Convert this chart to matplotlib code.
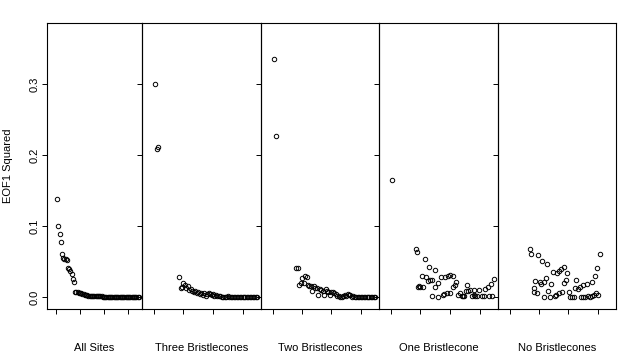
# EOF1 squared by site group - five panels side by side

import numpy as np
import matplotlib.pyplot as plt

plt.rcParams['font.family'] = ['Liberation Sans', 'DejaVu Sans']

group_names = ['All Sites', 'Three Bristlecones', 'Two Bristlecones',
               'One Bristlecone', 'No Bristlecones']

y_ticks = [0.0, 0.1, 0.2, 0.3]
y_tick_labels = ['0.0', '0.1', '0.2', '0.3']

#   D A T A   (x = site position, y = EOF1 squared)
# -------------------------------------------------------------
all_y = [0.138, 0.100, 0.088, 0.078, 0.061, 0.055, 0.054, 0.053, 0.052, 0.041,
         0.039, 0.036, 0.033, 0.025, 0.021, 0.0075, 0.0072, 0.0068, 0.0062, 0.0056,
         0.0050, 0.0046, 0.0040, 0.0033, 0.0027, 0.0022, 0.0018, 0.0015, 0.0012, 0.0010,
         0.0009, 0.0009, 0.0008, 0.0008, 0.0008, 0.0007, 0.0007, 0.0007, 0.0006, 0.0006,
         0.0006, 0.0006, 0.0005, 0.0005, 0.0005, 0.0005, 0.0005, 0.0004, 0.0004, 0.0004,
         0.0004, 0.0004, 0.0003, 0.0003, 0.0003, 0.0003, 0.0003, 0.0003, 0.0002, 0.0002,
         0.0002, 0.0002, 0.0002, 0.0002, 0.0001, 0.0001, 0.0001, 0.0001, 0.0001]
all_x = np.arange(1, len(all_y) + 1)

three_x = [1, 2, 3] + list(range(17, 71))
three_y = [0.300, 0.208, 0.211,
           0.028, 0.013, 0.014, 0.020, 0.017, 0.012, 0.016, 0.010, 0.011, 0.008,
           0.007, 0.009, 0.005, 0.007, 0.004, 0.006, 0.003, 0.005, 0.002, 0.004,
           0.006, 0.004, 0.003, 0.004, 0.002, 0.003, 0.002, 0.001, 0.002,
           0.0005, 0.0004, 0.0004, 0.0004, 0.002, 0.0005, 0.0004, 0.0004, 0.0004, 0.0004,
           0.0004, 0.0004, 0.0004, 0.0004, 0.0004, 0.0004, 0.0004, 0.0004, 0.0004, 0.0004,
           0.0004, 0.0004, 0.0004, 0.0004, 0.0004]

two_x = [1, 2] + list(range(16, 71))
two_y = [0.335, 0.227,
         0.041, 0.041, 0.017, 0.019, 0.026, 0.019, 0.029, 0.028, 0.017, 0.015,
         0.016, 0.009, 0.015, 0.013, 0.012, 0.0025, 0.011, 0.010, 0.009, 0.003,
         0.011, 0.009, 0.007, 0.003, 0.007, 0.007, 0.006, 0.004, 0.0015, 0.001,
         0.0005, 0.0005, 0.002, 0.0025, 0.0015, 0.004, 0.003, 0.0025, 0.0005, 0.0015,
         0.0005, 0.0005, 0.0005, 0.0005, 0.0005, 0.0005, 0.0005, 0.0005, 0.0005, 0.0005,
         0.0005, 0.0005, 0.0005, 0.0005, 0.0005]

one_x = [1, 16.7, 17.4, 22.8, 25.8, 29.6, 20.8, 23.5, 19.2, 18.5,
         19.9, 21.5, 26.2, 27.6, 25.1, 27.6, 30.0, 32.0, 33.7, 36.4,
         38.6, 39.8, 42.3, 44.3, 43.4, 42.0, 32.0, 35.0, 36.0, 37.9,
         40.2, 45.6, 47.0, 48.0, 48.8, 49.7, 51.3, 51.0, 52.4, 53.8,
         55.0, 56.5, 57.2, 58.3, 56.5, 59.4, 61.7, 63.0, 63.7, 65.8,
         66.2, 67.6, 68.5, 69.8]
one_y = [0.165, 0.068, 0.064, 0.054, 0.042, 0.038, 0.030, 0.028, 0.016, 0.014,
         0.0145, 0.0134, 0.024, 0.024, 0.022, 0.0014, 0.0134, 0.020, 0.028, 0.028,
         0.029, 0.031, 0.029, 0.021, 0.0164, 0.0146, 0.0005, 0.003, 0.004, 0.005,
         0.006, 0.003, 0.006, 0.0014, 0.0014, 0.0014, 0.0174, 0.009, 0.008, 0.0095,
         0.0014, 0.003, 0.0014, 0.0014, 0.010, 0.0095, 0.0014, 0.0014, 0.0105, 0.0134,
         0.0014, 0.018, 0.0014, 0.025]

none_x = [14.0, 14.5, 19.2, 22.2, 25.5, 17.4, 16.7, 20.6, 21.3, 23.3,
          24.9, 29.2, 32.1, 33.9, 34.8, 36.8, 38.9, 28.3, 26.2, 16.3,
          18.8, 23.5, 27.6, 30.5, 31.4, 33.5, 35.7, 36.8, 38.2, 40.4,
          41.4, 42.5, 43.6, 45.2, 44.7, 46.6, 47.7, 49.7, 52.4, 48.4,
          50.0, 51.6, 53.3, 54.5, 56.1, 56.1, 58.1, 59.7, 60.3, 57.4,
          59.0, 61.9]
none_y = [0.068, 0.061, 0.0587, 0.050, 0.047, 0.023, 0.013, 0.0207, 0.018, 0.021,
          0.0268, 0.0347, 0.034, 0.037, 0.0394, 0.0427, 0.034, 0.018, 0.0089, 0.0066,
          0.005, 0.0005, 0.0005, 0.0014, 0.0028, 0.005, 0.0066, 0.0193, 0.0235, 0.0075,
          0.0005, 0.0005, 0.0005, 0.024, 0.0126, 0.0117, 0.0146, 0.017, 0.018, 0.0005,
          0.0005, 0.0005, 0.0019, 0.0005, 0.0019, 0.0216, 0.030, 0.0408, 0.0033, 0.0033,
          0.005, 0.061]

panels_x = [all_x, three_x, two_x, one_x, none_x]
panels_y = [all_y, three_y, two_y, one_y, none_y]
# -------------------------------------------------------------

#   P L O T
# -------------------------------------------------------------
W, H = 628, 354
edges = [47, 142, 261, 379, 498, 616]
top_px, bottom_px = 23, 309

fig = plt.figure(figsize=(W / 100, H / 100), dpi=100)

for i in range(5):
    ax = fig.add_axes([edges[i] / W, 1 - bottom_px / H,
                       (edges[i + 1] - edges[i]) / W, (bottom_px - top_px) / H])
    ax.patch.set_alpha(0)

    ax.plot(panels_x[i], panels_y[i], 'o', mfc='none', mec='black', ms=3.2, mew=0.7)

    ax.set_ylim(-0.017, 0.386)
    if i == 0:
        ax.set_xlim(-7.5, 71.7)
    else:
        ax.set_xlim(-8.1, 72.5)

    ax.set_xticks([0, 20, 40, 60])
    ax.set_xticklabels([])
    ax.set_yticks(y_ticks)
    if i == 0:
        ax.set_yticklabels(y_tick_labels, rotation=90, va='center', fontsize=8)
    else:
        ax.set_yticklabels([])

    ax.tick_params(direction='out', length=3.6, width=0.7, pad=2)
    for sp in ax.spines.values():
        sp.set_linewidth(0.8)

    cx = (edges[i] + edges[i + 1]) / 2 / W
    fig.text(cx, 0.008, group_names[i], ha='center', va='baseline', fontsize=8)

fig.text(8 / W, 1 - 166 / H, 'EOF1 Squared', rotation=90,
         ha='center', va='center', fontsize=8)

plt.savefig('out.png', dpi=100)
# -------------------------------------------------------------
